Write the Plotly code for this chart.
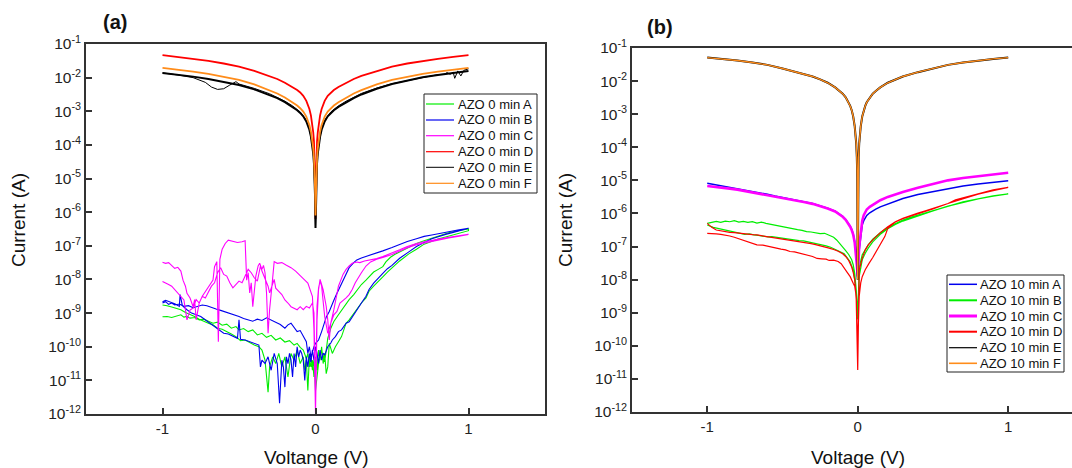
import numpy as np
import plotly.graph_objects as go

# ================= Panel (a): AZO 0 min =================
V_SMOOTH = [-1, -0.9, -0.8, -0.7, -0.6, -0.5, -0.4, -0.3, -0.25, -0.2, -0.15, -0.12, -0.1, -0.08,
            -0.06, -0.05, -0.04, -0.03, -0.02, -0.015, -0.01, -0.006, -0.003, 0,
            0.003, 0.006, 0.01, 0.015, 0.02, 0.03, 0.04, 0.05, 0.06, 0.08, 0.1, 0.12, 0.15, 0.2,
            0.25, 0.3, 0.4, 0.5, 0.6, 0.7, 0.8, 0.9, 1]

# log10(I) values
a_D_log = [-1.33, -1.38, -1.44, -1.50, -1.58, -1.67, -1.80, -1.95, -2.04, -2.15, -2.28, -2.37, -2.44, -2.54,
           -2.69, -2.80, -2.93, -3.12, -3.42, -3.62, -3.90, -4.30, -4.90, -6.20,
           -4.90, -4.30, -3.90, -3.62, -3.42, -3.12, -2.93, -2.80, -2.69, -2.54, -2.44, -2.37, -2.28, -2.15,
           -2.04, -1.95, -1.80, -1.67, -1.58, -1.50, -1.44, -1.38, -1.33]
a_F_log = [-1.71, -1.76, -1.82, -1.89, -1.97, -2.07, -2.20, -2.37, -2.47, -2.59, -2.73, -2.83, -2.91, -3.01,
           -3.16, -3.28, -3.41, -3.60, -3.90, -4.10, -4.40, -4.80, -5.30, -6.10,
           -5.30, -4.80, -4.40, -4.10, -3.90, -3.60, -3.41, -3.28, -3.16, -3.01, -2.91, -2.83, -2.73, -2.59,
           -2.47, -2.37, -2.20, -2.07, -1.97, -1.89, -1.82, -1.76, -1.71]
a_E_fwd_log = [-1.86, -1.91, -1.97, -2.04, -2.12, -2.22, -2.35, -2.51, -2.61, -2.73, -2.87, -2.97, -3.05, -3.15,
               -3.30, -3.42, -3.55, -3.75, -4.05, -4.25, -4.55, -5.00, -5.50, -6.47,
               -5.50, -5.00, -4.55, -4.25, -4.05, -3.75, -3.55, -3.42, -3.30, -3.15, -3.05, -2.97, -2.87, -2.73,
               -2.61, -2.50, -2.33, -2.19, -2.08, -1.99, -1.92, -1.85, -1.80]
a_E_rev = [(1.00, -1.74), (0.97, -1.78), (0.95, -1.95), (0.93, -1.80), (0.91, -2.02), (0.90, -1.84),
           (0.88, -1.90), (0.86, -1.85), (0.84, -1.90), (0.80, -1.91), (0.70, -2.00), (0.60, -2.08),
           (0.50, -2.18), (0.40, -2.31), (0.30, -2.47), (0.20, -2.70), (0.15, -2.84), (0.10, -3.02),
           (0.06, -3.27), (0.04, -3.52), (0.02, -4.00), (0.01, -4.50), (0.005, -5.10), (0.0, -6.40),
           (-0.005, -5.10), (-0.01, -4.50), (-0.02, -4.00), (-0.04, -3.52), (-0.06, -3.27), (-0.10, -3.02),
           (-0.15, -2.84), (-0.20, -2.70), (-0.30, -2.48), (-0.40, -2.32), (-0.50, -2.19), (-0.52, -2.12),
           (-0.56, -2.22), (-0.60, -2.33), (-0.64, -2.35), (-0.68, -2.28), (-0.72, -2.14), (-0.75, -2.08),
           (-0.80, -2.00), (-0.90, -1.92), (-1.00, -1.86)]

a_A_fwd = [(-1.00, -9.11), (-0.97, -9.10), (-0.94, -9.13), (-0.91, -9.08), (-0.88, -9.05), (-0.86, -9.12),
           (-0.84, -9.10), (-0.82, -9.15), (-0.79, -9.13), (-0.76, -9.20), (-0.73, -9.18), (-0.70, -9.24),
           (-0.67, -9.30), (-0.64, -9.27), (-0.61, -9.36), (-0.58, -9.33), (-0.55, -9.45), (-0.52, -9.40),
           (-0.50, -9.50), (-0.47, -9.46), (-0.44, -9.55), (-0.41, -9.50), (-0.38, -9.65), (-0.35, -9.60),
           (-0.32, -9.72), (-0.29, -9.66), (-0.26, -9.80), (-0.23, -9.74), (-0.20, -9.86), (-0.17, -9.82),
           (-0.14, -9.95), (-0.12, -9.90), (-0.10, -10.02), (-0.08, -10.10), (-0.06, -10.35), (-0.05, -10.20),
           (-0.04, -10.60), (-0.03, -10.30), (-0.02, -10.70), (-0.01, -10.40), (0.00, -11.30), (0.02, -10.50),
           (0.04, -10.10), (0.06, -10.45), (0.08, -9.75), (0.10, -9.45), (0.12, -9.25), (0.15, -9.05),
           (0.17, -8.91), (0.20, -8.72), (0.22, -8.60), (0.25, -8.45), (0.27, -8.32), (0.30, -8.15),
           (0.33, -8.02), (0.36, -7.88), (0.38, -7.78), (0.41, -7.70), (0.44, -7.62), (0.46, -7.48),
           (0.49, -7.34), (0.52, -7.25), (0.55, -7.18), (0.60, -7.05), (0.66, -6.93), (0.71, -6.85),
           (0.76, -6.77), (0.82, -6.68), (0.87, -6.61), (0.93, -6.55), (1.00, -6.50)]
a_A_rev = [(1.00, -6.55), (0.95, -6.62), (0.90, -6.68), (0.85, -6.74), (0.80, -6.80), (0.76, -6.86),
           (0.71, -6.95), (0.66, -7.10), (0.61, -7.24), (0.55, -7.45), (0.50, -7.65), (0.47, -7.78),
           (0.44, -7.92), (0.41, -8.05), (0.38, -8.20), (0.35, -8.35), (0.33, -8.55), (0.30, -8.70),
           (0.27, -8.90), (0.25, -9.00), (0.22, -9.20), (0.20, -9.30), (0.17, -9.70), (0.15, -9.85),
           (0.13, -10.00), (0.11, -10.20), (0.09, -9.90), (0.08, -10.60), (0.07, -10.80), (0.06, -10.20),
           (0.05, -10.50), (0.04, -10.00), (0.03, -10.40), (0.02, -10.10), (0.01, -10.70), (0.00, -10.30),
           (-0.01, -10.90), (-0.02, -10.40), (-0.03, -10.60), (-0.04, -10.30), (-0.05, -11.30), (-0.06, -10.40),
           (-0.07, -10.70), (-0.08, -10.30), (-0.10, -10.50), (-0.12, -10.10), (-0.14, -10.40), (-0.16, -10.20),
           (-0.18, -10.90), (-0.20, -10.30), (-0.22, -10.60), (-0.24, -10.20), (-0.26, -10.50), (-0.28, -10.30),
           (-0.30, -10.60), (-0.31, -11.35), (-0.33, -10.40), (-0.35, -10.10), (-0.37, -10.00), (-0.40, -9.95),
           (-0.43, -9.88), (-0.46, -9.80), (-0.49, -9.82), (-0.52, -9.70), (-0.55, -9.62), (-0.58, -9.55),
           (-0.61, -9.48), (-0.64, -9.45), (-0.67, -9.35), (-0.70, -9.30), (-0.73, -9.25), (-0.76, -9.18),
           (-0.79, -9.10), (-0.82, -9.05), (-0.85, -8.98), (-0.88, -8.90), (-0.91, -8.85), (-0.94, -8.82),
           (-0.97, -8.78), (-1.00, -8.76)]

a_B_fwd = [(-1.00, -8.70), (-0.98, -8.66), (-0.96, -8.74), (-0.94, -8.70), (-0.92, -8.76), (-0.89, -8.73),
           (-0.86, -8.80), (-0.83, -8.78), (-0.80, -8.84), (-0.77, -8.80), (-0.74, -8.76), (-0.71, -8.78),
           (-0.68, -8.84), (-0.65, -8.88), (-0.62, -8.92), (-0.59, -8.96), (-0.56, -9.02), (-0.53, -9.06),
           (-0.50, -9.10), (-0.47, -9.16), (-0.44, -9.20), (-0.41, -9.24), (-0.38, -9.18), (-0.35, -9.22),
           (-0.32, -9.14), (-0.29, -9.20), (-0.26, -9.26), (-0.23, -9.34), (-0.20, -9.45), (-0.18, -9.35),
           (-0.16, -9.30), (-0.14, -9.42), (-0.12, -9.55), (-0.10, -9.52), (-0.08, -9.70), (-0.06, -9.85),
           (-0.05, -10.20), (-0.04, -10.00), (-0.03, -10.30), (-0.02, -10.10), (-0.01, -10.00), (0.00, -9.90),
           (0.02, -9.80), (0.04, -9.55), (0.05, -9.40), (0.07, -9.12), (0.09, -8.95), (0.10, -8.82),
           (0.12, -8.62), (0.135, -8.46), (0.15, -8.32), (0.17, -8.10), (0.20, -7.85), (0.22, -7.65),
           (0.25, -7.50), (0.27, -7.42), (0.30, -7.36), (0.33, -7.32), (0.38, -7.25), (0.44, -7.15),
           (0.50, -7.05), (0.55, -6.95), (0.60, -6.87), (0.66, -6.79), (0.71, -6.72), (0.76, -6.68),
           (0.82, -6.62), (0.87, -6.58), (0.93, -6.53), (1.00, -6.48)]
a_B_rev = [(1.00, -6.48), (0.95, -6.55), (0.90, -6.60), (0.85, -6.66), (0.80, -6.72), (0.76, -6.79),
           (0.71, -6.90), (0.66, -7.02), (0.61, -7.18), (0.55, -7.37), (0.50, -7.58), (0.47, -7.68),
           (0.44, -7.82), (0.41, -7.95), (0.38, -8.11), (0.35, -8.30), (0.33, -8.50), (0.30, -8.70),
           (0.27, -8.91), (0.25, -9.05), (0.22, -9.26), (0.20, -9.30), (0.17, -9.50), (0.15, -9.55),
           (0.13, -9.70), (0.11, -9.80), (0.10, -9.89), (0.08, -10.00), (0.06, -10.25), (0.05, -10.19),
           (0.04, -10.40), (0.03, -10.10), (0.02, -10.50), (0.01, -10.20), (0.00, -10.00), (-0.01, -10.40),
           (-0.02, -10.10), (-0.03, -10.45), (-0.04, -10.20), (-0.05, -10.60), (-0.06, -10.30), (-0.07, -11.00),
           (-0.08, -10.40), (-0.09, -10.20), (-0.10, -10.10), (-0.11, -10.30), (-0.12, -10.00), (-0.13, -10.60),
           (-0.14, -10.20), (-0.15, -10.90), (-0.16, -10.40), (-0.17, -10.20), (-0.18, -10.50), (-0.19, -10.30),
           (-0.20, -11.20), (-0.21, -10.60), (-0.22, -10.40), (-0.235, -11.68), (-0.25, -10.50), (-0.27, -10.20),
           (-0.29, -10.70), (-0.31, -10.30), (-0.33, -10.50), (-0.35, -10.40), (-0.36, -10.60), (-0.37, -9.95),
           (-0.40, -9.90), (-0.43, -9.85), (-0.46, -9.80), (-0.49, -9.78), (-0.50, -9.20), (-0.51, -9.75),
           (-0.54, -9.68), (-0.57, -9.62), (-0.60, -9.60), (-0.63, -9.50), (-0.66, -9.40), (-0.69, -9.30),
           (-0.72, -9.20), (-0.75, -9.10), (-0.78, -9.05), (-0.81, -9.00), (-0.84, -8.90), (-0.87, -8.78),
           (-0.885, -8.45), (-0.89, -8.80), (-0.92, -8.72), (-0.95, -8.66), (-0.98, -8.62), (-1.00, -8.66)]

a_C_fwd = [(-1.00, -7.49), (-0.98, -7.52), (-0.96, -7.50), (-0.94, -7.58), (-0.92, -7.67), (-0.90, -7.64),
           (-0.88, -7.75), (-0.866, -8.02), (-0.85, -8.20), (-0.84, -8.41), (-0.82, -8.55), (-0.80, -8.81),
           (-0.79, -8.60), (-0.78, -9.20), (-0.76, -8.70), (-0.74, -8.50), (-0.72, -8.36), (-0.70, -8.20),
           (-0.67, -8.02), (-0.66, -7.62), (-0.645, -7.47), (-0.635, -9.85), (-0.625, -7.40), (-0.61, -7.10),
           (-0.59, -6.93), (-0.57, -6.83), (-0.54, -6.86), (-0.51, -6.90), (-0.48, -6.88), (-0.46, -6.85),
           (-0.45, -8.02), (-0.44, -7.80), (-0.43, -8.40), (-0.42, -8.10), (-0.41, -8.81), (-0.40, -8.30),
           (-0.39, -7.90), (-0.375, -7.60), (-0.365, -7.52), (-0.35, -7.70), (-0.34, -7.58), (-0.33, -7.80),
           (-0.32, -8.40), (-0.31, -9.60), (-0.30, -8.90), (-0.285, -8.20), (-0.27, -7.47), (-0.25, -7.52),
           (-0.22, -7.50), (-0.19, -7.58), (-0.16, -7.65), (-0.13, -7.75), (-0.10, -7.90), (-0.07, -8.02),
           (-0.05, -8.11), (-0.03, -8.40), (-0.02, -8.51), (-0.01, -9.50), (0.00, -12.00), (0.01, -9.20),
           (0.02, -8.30), (0.03, -8.00), (0.05, -8.30), (0.07, -8.80), (0.08, -9.20), (0.09, -9.80),
           (0.10, -9.30), (0.12, -8.90), (0.15, -8.20), (0.18, -7.85), (0.20, -7.70), (0.22, -7.60),
           (0.24, -7.52), (0.27, -7.48), (0.29, -7.50), (0.32, -7.45), (0.36, -7.42), (0.40, -7.38),
           (0.44, -7.32), (0.50, -7.22), (0.55, -7.12), (0.60, -7.02), (0.66, -6.93), (0.71, -6.88),
           (0.76, -6.83), (0.82, -6.79), (0.87, -6.75), (0.93, -6.71), (1.00, -6.68)]
a_C_rev = [(1.00, -6.66), (0.93, -6.72), (0.87, -6.77), (0.82, -6.82), (0.76, -6.86), (0.71, -6.92),
           (0.66, -6.97), (0.60, -7.06), (0.55, -7.16), (0.50, -7.26), (0.44, -7.35), (0.40, -7.40),
           (0.36, -7.48), (0.33, -7.60), (0.30, -7.80), (0.28, -7.95), (0.26, -8.10), (0.24, -8.30),
           (0.22, -8.45), (0.20, -8.55), (0.18, -8.62), (0.16, -8.70), (0.14, -8.95), (0.12, -9.05),
           (0.10, -9.30), (0.08, -9.60), (0.06, -9.10), (0.05, -8.60), (0.04, -8.20), (0.03, -8.05),
           (0.02, -8.25), (0.01, -8.80), (0.00, -11.50), (-0.01, -9.00), (-0.02, -8.70), (-0.04, -8.85),
           (-0.06, -8.80), (-0.08, -8.90), (-0.10, -8.81), (-0.12, -8.90), (-0.14, -8.86), (-0.16, -8.81),
           (-0.18, -8.70), (-0.20, -8.61), (-0.22, -8.45), (-0.24, -8.35), (-0.26, -8.26), (-0.27, -8.00),
           (-0.28, -8.15), (-0.30, -8.40), (-0.31, -8.20), (-0.33, -8.00), (-0.35, -7.75), (-0.36, -7.60),
           (-0.37, -7.85), (-0.38, -8.05), (-0.40, -7.95), (-0.42, -7.80), (-0.44, -7.70), (-0.46, -7.90),
           (-0.48, -8.10), (-0.50, -8.05), (-0.52, -8.15), (-0.54, -8.25), (-0.56, -8.10), (-0.58, -7.90),
           (-0.60, -7.85), (-0.62, -7.65), (-0.64, -7.80), (-0.66, -8.10), (-0.68, -8.20), (-0.70, -8.40),
           (-0.72, -8.55), (-0.74, -8.50), (-0.76, -8.70), (-0.78, -8.60), (-0.80, -8.85), (-0.82, -8.91),
           (-0.84, -9.20), (-0.86, -8.61), (-0.88, -8.50), (-0.90, -8.40), (-0.92, -8.30), (-0.94, -8.20),
           (-0.96, -8.15), (-0.98, -8.10), (-1.00, -8.06)]

# ================= Panel (b): AZO 10 min =================
b_EF_log = [-1.29, -1.33, -1.38, -1.44, -1.51, -1.62, -1.73, -1.86, -1.95, -2.05, -2.19, -2.30, -2.38, -2.49,
            -2.64, -2.75, -2.88, -3.07, -3.37, -3.58, -3.88, -4.30, -4.90, -8.00,
            -4.90, -4.30, -3.88, -3.58, -3.37, -3.07, -2.88, -2.75, -2.64, -2.49, -2.38, -2.30, -2.19, -2.05,
            -1.95, -1.86, -1.73, -1.62, -1.51, -1.44, -1.38, -1.33, -1.29]

b_A = [(-1.00, -5.09), (-0.95, -5.13), (-0.90, -5.16), (-0.85, -5.20), (-0.80, -5.24), (-0.75, -5.28),
       (-0.70, -5.33), (-0.65, -5.38), (-0.60, -5.42), (-0.55, -5.47), (-0.50, -5.51), (-0.45, -5.55),
       (-0.40, -5.60), (-0.35, -5.65), (-0.30, -5.70), (-0.25, -5.76), (-0.20, -5.84), (-0.15, -5.93),
       (-0.12, -6.02), (-0.10, -6.09), (-0.08, -6.18), (-0.06, -6.30), (-0.05, -6.38), (-0.04, -6.48),
       (-0.03, -6.62), (-0.02, -6.85), (-0.01, -7.20), (-0.005, -7.60), (0.0, -8.00), (0.005, -7.50),
       (0.01, -7.10), (0.02, -6.72), (0.03, -6.35), (0.04, -6.22), (0.05, -6.12), (0.06, -6.06),
       (0.08, -5.98), (0.10, -5.92), (0.12, -5.87), (0.15, -5.80), (0.20, -5.71), (0.25, -5.62),
       (0.30, -5.55), (0.40, -5.43), (0.50, -5.34), (0.60, -5.25), (0.70, -5.17), (0.80, -5.11),
       (0.90, -5.05), (1.00, -5.01)]
b_C = [(-1.00, -5.17), (-0.95, -5.19), (-0.90, -5.22), (-0.85, -5.25), (-0.80, -5.28), (-0.75, -5.32),
       (-0.70, -5.36), (-0.65, -5.40), (-0.60, -5.44), (-0.55, -5.48), (-0.50, -5.52), (-0.45, -5.56),
       (-0.40, -5.61), (-0.35, -5.66), (-0.30, -5.71), (-0.25, -5.77), (-0.20, -5.85), (-0.15, -5.94),
       (-0.12, -6.03), (-0.10, -6.10), (-0.08, -6.19), (-0.06, -6.31), (-0.05, -6.40), (-0.04, -6.50),
       (-0.03, -6.64), (-0.02, -6.88), (-0.01, -7.25), (-0.005, -7.60), (0.0, -7.90), (0.005, -7.40),
       (0.01, -7.00), (0.02, -6.60), (0.03, -6.22), (0.04, -6.05), (0.05, -5.95), (0.06, -5.88),
       (0.08, -5.80), (0.10, -5.74), (0.12, -5.68), (0.15, -5.60), (0.20, -5.50), (0.25, -5.42),
       (0.30, -5.35), (0.40, -5.22), (0.50, -5.11), (0.60, -5.00), (0.70, -4.93), (0.80, -4.87),
       (0.90, -4.82), (1.00, -4.77)]
b_B_fwd = [(-1.00, -6.30), (-0.97, -6.26), (-0.94, -6.24), (-0.91, -6.27), (-0.88, -6.23), (-0.85, -6.25),
           (-0.82, -6.22), (-0.79, -6.26), (-0.76, -6.24), (-0.73, -6.27), (-0.70, -6.25), (-0.67, -6.29),
           (-0.64, -6.26), (-0.61, -6.30), (-0.58, -6.33), (-0.55, -6.35), (-0.52, -6.38), (-0.49, -6.40),
           (-0.46, -6.44), (-0.43, -6.46), (-0.40, -6.49), (-0.37, -6.51), (-0.34, -6.55), (-0.31, -6.56),
           (-0.28, -6.58), (-0.25, -6.61), (-0.22, -6.60), (-0.19, -6.66), (-0.16, -6.72), (-0.14, -6.80),
           (-0.12, -6.90), (-0.10, -7.02), (-0.08, -7.12), (-0.06, -7.24), (-0.05, -7.31), (-0.04, -7.40),
           (-0.03, -7.55), (-0.02, -7.81), (-0.01, -8.30), (0.0, -9.20), (0.01, -7.62), (0.02, -7.40),
           (0.03, -7.25), (0.05, -7.10), (0.07, -6.95), (0.10, -6.78), (0.12, -6.70), (0.15, -6.58),
           (0.20, -6.42), (0.25, -6.30), (0.30, -6.20), (0.35, -6.12), (0.40, -6.05), (0.45, -5.98),
           (0.50, -5.91), (0.55, -5.84), (0.60, -5.77), (0.65, -5.70), (0.70, -5.65), (0.75, -5.60),
           (0.80, -5.55), (0.85, -5.51), (0.90, -5.47), (0.95, -5.44), (1.00, -5.41)]
b_B_rev = [(1.00, -5.42), (0.90, -5.48), (0.80, -5.56), (0.70, -5.66), (0.60, -5.78), (0.50, -5.92),
           (0.40, -6.07), (0.30, -6.23), (0.25, -6.33), (0.20, -6.46), (0.15, -6.63), (0.12, -6.76),
           (0.10, -6.86), (0.07, -7.05), (0.05, -7.20), (0.03, -7.40), (0.02, -7.60), (0.01, -7.90),
           (0.0, -9.00), (-0.01, -8.30), (-0.02, -8.00), (-0.03, -7.72), (-0.05, -7.46), (-0.07, -7.32),
           (-0.09, -7.22), (-0.12, -7.15), (-0.15, -7.08), (-0.18, -7.02), (-0.21, -6.98), (-0.24, -6.95),
           (-0.27, -6.93), (-0.30, -6.88), (-0.33, -6.86), (-0.36, -6.83), (-0.39, -6.82), (-0.42, -6.80),
           (-0.45, -6.80), (-0.48, -6.77), (-0.51, -6.75), (-0.54, -6.74), (-0.57, -6.70), (-0.60, -6.71),
           (-0.63, -6.68), (-0.66, -6.66), (-0.69, -6.65), (-0.72, -6.62), (-0.75, -6.63), (-0.78, -6.60),
           (-0.81, -6.58), (-0.84, -6.55), (-0.87, -6.52), (-0.90, -6.50), (-0.93, -6.47), (-0.96, -6.42),
           (-1.00, -6.35)]
b_D_fwd = [(-1.00, -6.30), (-0.97, -6.42), (-0.94, -6.50), (-0.91, -6.53), (-0.88, -6.55), (-0.85, -6.57),
           (-0.82, -6.58), (-0.79, -6.60), (-0.76, -6.61), (-0.73, -6.63), (-0.70, -6.64), (-0.67, -6.65),
           (-0.64, -6.67), (-0.61, -6.69), (-0.58, -6.71), (-0.55, -6.73), (-0.52, -6.75), (-0.49, -6.77),
           (-0.46, -6.80), (-0.43, -6.82), (-0.40, -6.85), (-0.37, -6.87), (-0.34, -6.89), (-0.31, -6.91),
           (-0.28, -6.94), (-0.25, -6.97), (-0.22, -7.01), (-0.19, -7.05), (-0.16, -7.09), (-0.13, -7.14),
           (-0.10, -7.22), (-0.08, -7.30), (-0.06, -7.42), (-0.05, -7.51), (-0.04, -7.62), (-0.03, -7.78),
           (-0.02, -8.00), (-0.01, -8.60), (0.0, -10.73), (0.01, -7.71), (0.02, -7.50), (0.03, -7.35),
           (0.05, -7.10), (0.07, -6.95), (0.10, -6.80), (0.12, -6.70), (0.15, -6.58), (0.20, -6.40),
           (0.25, -6.25), (0.30, -6.15), (0.35, -6.06), (0.40, -5.99), (0.45, -5.92), (0.50, -5.85),
           (0.55, -5.78), (0.60, -5.70), (0.65, -5.59), (0.70, -5.53), (0.75, -5.46), (0.80, -5.40),
           (0.85, -5.34), (0.90, -5.29), (0.95, -5.25), (1.00, -5.21)]
b_D_rev = [(1.00, -5.22), (0.90, -5.31), (0.80, -5.42), (0.70, -5.55), (0.60, -5.70), (0.50, -5.86),
           (0.40, -6.00), (0.30, -6.16), (0.25, -6.26), (0.20, -6.45), (0.18, -6.70), (0.15, -6.95),
           (0.12, -7.20), (0.10, -7.33), (0.075, -7.51), (0.05, -7.70), (0.03, -7.91), (0.02, -8.10),
           (0.01, -8.50), (0.0, -10.00), (-0.01, -8.50), (-0.02, -8.20), (-0.03, -8.11), (-0.05, -7.91),
           (-0.07, -7.78), (-0.09, -7.66), (-0.11, -7.52), (-0.13, -7.45), (-0.16, -7.41), (-0.19, -7.42),
           (-0.21, -7.38), (-0.24, -7.37), (-0.27, -7.36), (-0.30, -7.30), (-0.33, -7.26), (-0.36, -7.22),
           (-0.39, -7.20), (-0.42, -7.16), (-0.45, -7.15), (-0.48, -7.10), (-0.51, -7.08), (-0.54, -7.05),
           (-0.57, -7.02), (-0.60, -6.98), (-0.63, -6.96), (-0.67, -6.95), (-0.70, -6.90), (-0.73, -6.85),
           (-0.76, -6.80), (-0.79, -6.76), (-0.82, -6.72), (-0.85, -6.68), (-0.88, -6.65), (-0.91, -6.63),
           (-0.94, -6.62), (-0.97, -6.61), (-1.00, -6.60)]

Y_TICK_EXP = [-1, -2, -3, -4, -5, -6, -7, -8, -9, -10, -11, -12]
X_TICKS = [-1, 0, 1]
LEGEND_A_NAMES = ["AZO 0 min A", "AZO 0 min B", "AZO 0 min C", "AZO 0 min D", "AZO 0 min E", "AZO 0 min F"]
LEGEND_B_NAMES = ["AZO 10 min A", "AZO 10 min B", "AZO 10 min C", "AZO 10 min D", "AZO 10 min E", "AZO 10 min F"]

FONT = "Liberation Sans, Arial, sans-serif"
C_GREEN, C_BLUE, C_MAG, C_RED, C_BLACK, C_ORANGE = "#00ee00", "#0000ee", "#ff00ff", "#ff0000", "#000000", "#ff8c1a"

fig = go.Figure()


def pairs(*branches):
    v, l = [], []
    for br in branches:
        for a, b in br:
            v.append(a)
            l.append(b)
    return v, l


def add(v, logs, color, width, name, xa, ya):
    fig.add_trace(go.Scatter(x=v, y=np.power(10.0, np.array(logs, dtype=float)), mode="lines",
                             line=dict(color=color, width=width), name=name,
                             xaxis=xa, yaxis=ya, showlegend=False))


# panel (a)
v, l = pairs(a_A_fwd, a_A_rev); add(v, l, C_GREEN, 1.1, LEGEND_A_NAMES[0], "x", "y")
v, l = pairs(a_B_fwd, a_B_rev); add(v, l, C_BLUE, 1.1, LEGEND_A_NAMES[1], "x", "y")
v, l = pairs(a_C_fwd, a_C_rev); add(v, l, C_MAG, 1.1, LEGEND_A_NAMES[2], "x", "y")
add(V_SMOOTH, a_D_log, C_RED, 1.8, LEGEND_A_NAMES[3], "x", "y")
v, l = pairs(a_E_rev); add(v, l, C_BLACK, 1.0, LEGEND_A_NAMES[4], "x", "y")
add(V_SMOOTH, a_E_fwd_log, C_BLACK, 2.0, LEGEND_A_NAMES[4], "x", "y")
add(V_SMOOTH, a_F_log, C_ORANGE, 1.8, LEGEND_A_NAMES[5], "x", "y")

# panel (b)
v, l = pairs(b_A); add(v, l, C_BLUE, 1.5, LEGEND_B_NAMES[0], "x2", "y2")
v, l = pairs(b_B_fwd, b_B_rev); add(v, l, C_GREEN, 1.2, LEGEND_B_NAMES[1], "x2", "y2")
v, l = pairs(b_C); add(v, l, C_MAG, 2.6, LEGEND_B_NAMES[2], "x2", "y2")
v, l = pairs(b_D_fwd, b_D_rev); add(v, l, C_RED, 1.2, LEGEND_B_NAMES[3], "x2", "y2")
add(V_SMOOTH, b_EF_log, C_BLACK, 2.0, LEGEND_B_NAMES[4], "x2", "y2")
add(V_SMOOTH, b_EF_log, C_ORANGE, 1.4, LEGEND_B_NAMES[5], "x2", "y2")

W, H = 1072, 468
AX = "#333333"
ytickvals = [10.0 ** e for e in Y_TICK_EXP]
yticktext = ["10<sup>%d</sup>" % e for e in Y_TICK_EXP]

common_x = dict(tickvals=X_TICKS, ticktext=[str(t) for t in X_TICKS], ticks="inside", ticklen=6,
                tickwidth=1.5, tickcolor=AX, showline=True, linecolor=AX, linewidth=1.5,
                showgrid=False, zeroline=False, automargin=False, mirror=True,
                tickfont=dict(family=FONT, size=15, color="#222"))
common_y = dict(type="log", range=[-12, -1], tickvals=ytickvals, ticktext=yticktext, ticks="inside",
                ticklen=6, tickwidth=1.5, tickcolor=AX, showline=True, linecolor=AX, linewidth=1.5,
                showgrid=False, zeroline=False, automargin=False,
                tickfont=dict(family=FONT, size=15.5, color="#222"))

fig.update_layout(
    template="none", width=W, height=H, margin=dict(l=0, r=0, t=0, b=0),
    paper_bgcolor="white", plot_bgcolor="white", font=dict(family=FONT, color="#111"),
    xaxis=dict(common_x, domain=[86 / W, 545 / W], range=[-1.5, 1.5], anchor="y"),
    yaxis=dict(common_y, domain=[1 - 414 / H, 1 - 44 / H], anchor="x", mirror=True),
    xaxis2=dict(common_x, domain=[632 / W, 1.0], range=[-1.5, 1.424], anchor="y2"),
    yaxis2=dict(common_y, domain=[1 - 412 / H, 1 - 48 / H], anchor="x2", mirror=False),
    showlegend=False,
)


def px(x):
    return x / W


def py(y):
    return 1 - y / H


# legend boxes drawn as shapes + text (row spacing of the original is tighter than Plotly's legend)
LEG_A_COLORS = [C_GREEN, C_BLUE, C_MAG, C_RED, C_BLACK, C_ORANGE]
LEG_A_WIDTHS = [1.2, 1.2, 1.2, 1.2, 1.0, 1.2]
LEG_B_COLORS = [C_BLUE, C_GREEN, C_MAG, C_RED, C_BLACK, C_ORANGE]
LEG_B_WIDTHS = [1.5, 2.0, 3.0, 2.0, 1.2, 1.6]


def legend_box(x0, x1, y0, y1, rows, names, colors, widths, line_x0, line_x1, text_x):
    fig.add_shape(type="rect", xref="paper", yref="paper", x0=px(x0), x1=px(x1), y0=py(y1), y1=py(y0),
                  line=dict(color="#222", width=1), fillcolor="white", layer="above")
    for yy, nm, c, w in zip(rows, names, colors, widths):
        fig.add_shape(type="line", xref="paper", yref="paper", x0=px(line_x0), x1=px(line_x1),
                      y0=py(yy), y1=py(yy), line=dict(color=c, width=w), layer="above")
        fig.add_annotation(text=nm, x=px(text_x), y=py(yy), xref="paper", yref="paper", xanchor="left",
                           yanchor="middle", showarrow=False, borderpad=0,
                           font=dict(family=FONT, size=13, color="#111"))


legend_box(424, 537, 94, 193, [104, 120, 135.7, 151.7, 167.3, 183.3], LEGEND_A_NAMES,
           LEG_A_COLORS, LEG_A_WIDTHS, 426, 454, 457)
legend_box(947, 1064, 275, 372, [284.3, 300.3, 316, 331.7, 347.7, 363.3], LEGEND_B_NAMES,
           LEG_B_COLORS, LEG_B_WIDTHS, 949, 977, 979)

ann = [
    dict(text="<b>(a)</b>", x=115, y=22, size=20, angle=0),
    dict(text="<b>(b)</b>", x=660, y=27, size=20, angle=0),
    dict(text="Current (A)", x=18, y=220, size=19, angle=-90),
    dict(text="Current (A)", x=565, y=220, size=19, angle=-90),
    dict(text="Voltange (V)", x=316, y=457, size=19, angle=0),
    dict(text="Voltage (V)", x=858, y=457, size=19, angle=0),
]
for a in ann:
    fig.add_annotation(text=a["text"], x=px(a["x"]), y=py(a["y"]), xref="paper", yref="paper",
                       xanchor="center", yanchor="middle", showarrow=False, textangle=a["angle"],
                       font=dict(family=FONT, size=a["size"], color="#111"))

fig.write_html("out.html")
